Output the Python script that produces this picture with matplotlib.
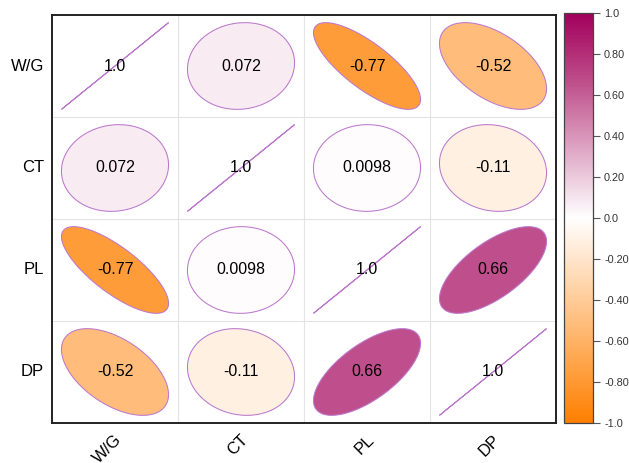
import numpy as np
import matplotlib
matplotlib.use('Agg')
import matplotlib.pyplot as plt
from matplotlib.colors import LinearSegmentedColormap, Normalize
from matplotlib.patches import Polygon
import matplotlib.transforms as mtransforms

plt.rcParams['font.family'] = ['Liberation Sans', 'DejaVu Sans']

# correlation matrix, one list per variable
labels = ['W/G', 'CT', 'PL', 'DP']
r_wg = [1.0, 0.072, -0.77, -0.52]
r_ct = [0.072, 1.0, 0.0098, -0.11]
r_pl = [-0.77, 0.0098, 1.0, 0.66]
r_dp = [-0.52, -0.11, 0.66, 1.0]
cbar_ticks = [-1.0, -0.8, -0.6, -0.4, -0.2, 0.0, 0.2, 0.4, 0.6, 0.8, 1.0]
cbar_labels = ['-1.0', '-0.80', '-0.60', '-0.40', '-0.20', '0.0',
               '0.20', '0.40', '0.60', '0.80', '1.0']

corr = np.array([r_wg, r_ct, r_pl, r_dp])
n = len(labels)

cmap = LinearSegmentedColormap.from_list(
    'orpu', [(0.0, '#FF7F00'), (0.5, '#FFFFFF'), (0.83, '#BF508C'), (1.0, '#A2005B')])
norm = Normalize(-1, 1)
edge_col = '#BC78CC'


def ellipse_xy(r, scale=0.85):
    # same construction corrplot uses for method="ellipse"
    t = np.linspace(0, 2 * np.pi, 100)
    d = np.arccos(np.clip(r, -1, 1))
    x = np.cos(t + d / 2) / 2 * scale
    y = np.cos(t - d / 2) / 2 * scale
    return x, y


def fmt(v):
    if v == 1.0:
        return '1.0'
    return '%.2g' % v


fig = plt.figure(figsize=(6.29, 4.63), dpi=100)
ax = fig.add_axes([52 / 629, 40 / 463, 504 / 629, 408 / 463])
cax = fig.add_axes([564 / 629, 40 / 463, 29 / 629, 410 / 463])

ax.set_xlim(0, n)
ax.set_ylim(0, n)

# light grid between cells
for k in range(1, n):
    ax.axvline(k, color='#E3E3E3', lw=0.8, zorder=0)
    ax.axhline(k, color='#E3E3E3', lw=0.8, zorder=0)

for i in range(n):
    for j in range(n):
        r = corr[i, j]
        cx, cy = j + 0.5, n - i - 0.5
        ex, ey = ellipse_xy(r)
        poly = Polygon(np.column_stack([cx + ex, cy + ey]), closed=True,
                       facecolor=cmap(norm(r)), edgecolor=edge_col, lw=0.75, zorder=2)
        ax.add_patch(poly)
        ax.text(cx, cy, fmt(r), ha='center', va='center', fontsize=11.5,
                color='black', zorder=3)

ax.set_xticks([])
ax.set_yticks([])
for s in ax.spines.values():
    s.set_linewidth(1.4)
    s.set_color('#222222')

trans_x = mtransforms.blended_transform_factory(ax.transData, ax.transAxes)
trans_y = mtransforms.blended_transform_factory(ax.transAxes, ax.transData)
for k, lab in enumerate(labels):
    ax.text(-0.016, n - k - 0.5, lab, transform=trans_y, ha='right', va='center',
            fontsize=12, color='black')
    ax.text(k + 0.5 + 0.035, -0.035, lab, transform=trans_x, rotation=45,
            rotation_mode='anchor', ha='right', va='center', fontsize=12,
            color='black', clip_on=False)

sm = plt.cm.ScalarMappable(norm=norm, cmap=cmap)
cb = fig.colorbar(sm, cax=cax)
cb.set_ticks(cbar_ticks)
cb.set_ticklabels(cbar_labels)
cb.ax.tick_params(labelsize=7.8, length=5, width=0.8, colors='#555555',
                  labelcolor='#333333', pad=3)
cb.outline.set_edgecolor('#444444')
cb.outline.set_linewidth(0.9)

fig.savefig('out.png', dpi=100, facecolor='white')
